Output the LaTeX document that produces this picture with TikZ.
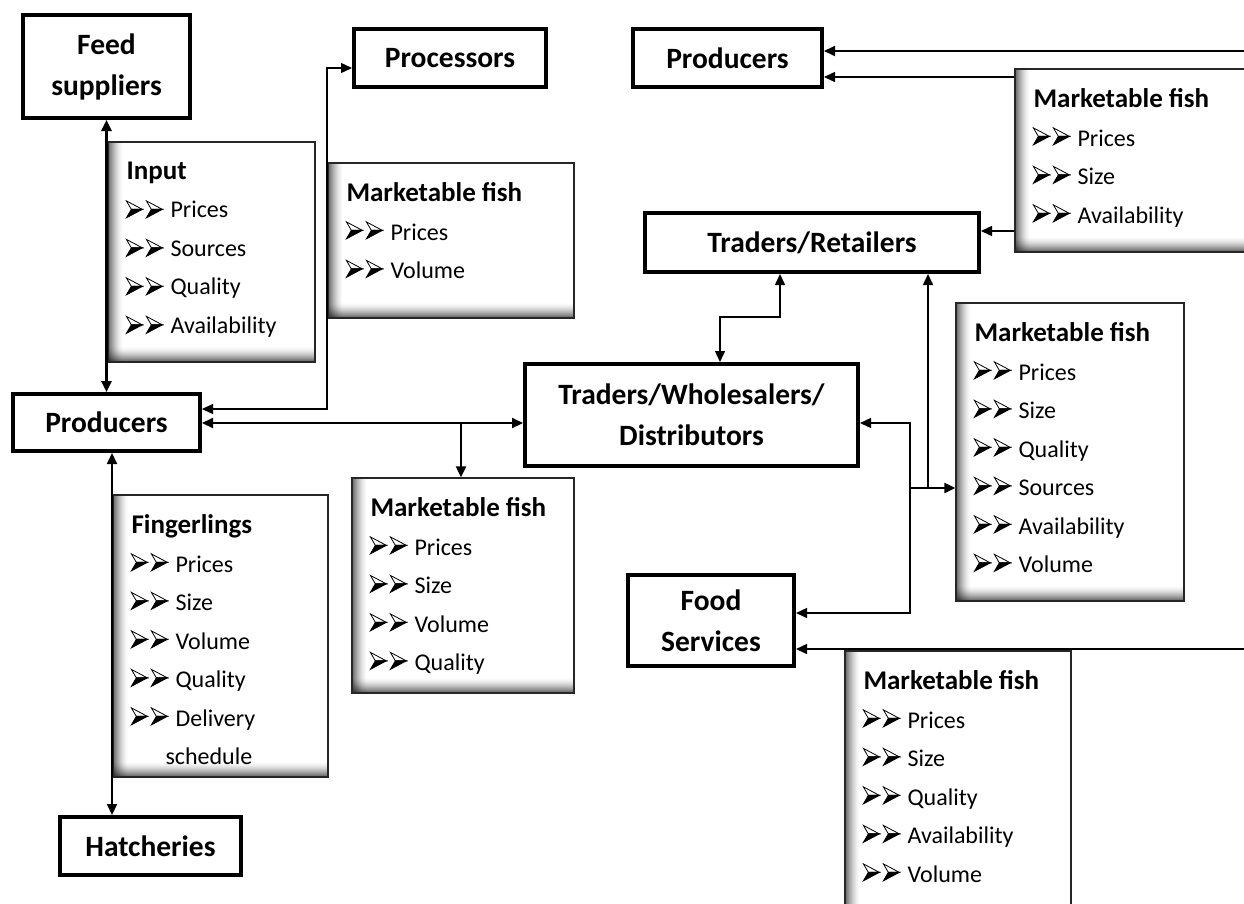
\documentclass[tikz,border=0pt]{standalone}
\usepackage{fontspec}
\setmainfont{Carlito}
\usetikzlibrary{arrows.meta}
\newcommand\bb{\hspace*{44pt}}
\newcommand\ttl[1]{{\bfseries\fontsize{27}{38}\selectfont #1}}
\begin{document}
\begin{tikzpicture}[x=1pt,y=-1pt,
  mainbox/.style={draw, line width=4pt, inner sep=0pt, align=center,
    font=\bfseries\fontsize{29.5}{41}\selectfont},
  infobox/.style={draw=black!85, line width=1.3pt, inner sep=0pt,
    path picture={
      \foreach \i in {0,...,14}{
        \pgfmathsetmacro\op{0.6*(1-\i/15)^1.6}
        \pgfmathsetmacro\j{\i+1}
        \fill[black, opacity=\op] ([xshift=\i pt]path picture bounding box.south west)
          rectangle ([xshift=\j pt]path picture bounding box.north west);
        \fill[black, opacity=\op] ([yshift=\i pt]path picture bounding box.south west)
          rectangle ([yshift=\j pt]path picture bounding box.south east);
      }
    }},
  infotext/.style={anchor=north west, inner sep=0pt, align=left,
    font=\fontsize{24}{38.5}\selectfont},
  conn/.style={line width=1.5pt},
  dblarr/.style={conn, {Triangle[length=11pt,width=10pt]}-{Triangle[length=11pt,width=10pt]}},
  sglarr/.style={conn, -{Triangle[length=11pt,width=10pt]}},
  arrhead/.pic={
    \filldraw[fill=white, draw=black, line width=0.8pt, line join=miter] (0,-8.5) -- (16,0) -- (5,0) -- cycle;
    \filldraw[fill=black, draw=black, line width=0.8pt, line join=miter] (5,0) -- (16,0) -- (0,8.5) -- cycle;
  },
]
\newcommand\bulls[2]{%
  \foreach \k in {1,...,#2}{
    \pgfmathsetmacro\dy{68+38.5*(\k-1)}
    \pic at ([xshift=19pt,yshift=-\dy pt]#1.north west) {arrhead};
    \pic at ([xshift=39pt,yshift=-\dy pt]#1.north west) {arrhead};
  }}
\useasboundingbox (0,0) rectangle (1244,903);
\clip (0,0) rectangle (1244,903);
\fill[white] (0,0) rectangle (1244,903);

% main boxes
\node[mainbox, minimum width=167pt, minimum height=103pt] (feed) at (106.5,66.5) {Feed\\suppliers};
\node[mainbox, minimum width=192pt, minimum height=58pt] (proc) at (450,58) {Processors};
\node[mainbox, minimum width=189pt, minimum height=58pt] (prodT) at (727.5,58) {Producers};
\node[mainbox, minimum width=334pt, minimum height=59pt] (tr) at (812,242.5) {Traders/Retailers};
\node[mainbox, minimum width=187pt, minimum height=57pt] (prodL) at (106.5,422.5) {Producers};
\node[mainbox, minimum width=333pt, minimum height=102pt] (tw) at (691.5,415) {Traders/Wholesalers/\\Distributors};
\node[mainbox, minimum width=166pt, minimum height=91pt] (food) at (711,620.5) {Food\\Services};
\node[mainbox, minimum width=181pt, minimum height=58pt] (hatch) at (150.5,846) {Hatcheries};

% info boxes
\node[infobox, minimum width=207pt, minimum height=220pt] (inp) at (211.5,252) {};
\node[infobox, minimum width=246pt, minimum height=155pt] (mfp) at (451,240.5) {};
\node[infobox, minimum width=245pt, minimum height=183pt] (mftr) at (1137.5,160.5) {};
\node[infobox, minimum width=215pt, minimum height=282pt] (fing) at (220.5,636) {};
\node[infobox, minimum width=222pt, minimum height=215pt] (mfc) at (463,585.5) {};
\node[infobox, minimum width=228pt, minimum height=298pt] (mfr) at (1070,452) {};
\node[infobox, minimum width=226pt, minimum height=269pt] (mfb) at (958,785.5) {};

% info texts
\node[infotext] (inp-t) at ([xshift=19pt,yshift=-20pt]inp.north west)
  {\ttl{Input}\\\bb Prices\\\bb Sources\\\bb Quality\\\bb Availability};
\node[infotext] (mfp-t) at ([xshift=19pt,yshift=-20pt]mfp.north west)
  {\ttl{Marketable fish}\\\bb Prices\\\bb Volume};
\node[infotext] (mftr-t) at ([xshift=19pt,yshift=-20pt]mftr.north west)
  {\ttl{Marketable fish}\\\bb Prices\\\bb Size\\\bb Availability};
\node[infotext] (fing-t) at ([xshift=19pt,yshift=-20pt]fing.north west)
  {\ttl{Fingerlings}\\\bb Prices\\\bb Size\\\bb Volume\\\bb Quality\\\bb Delivery\\\hspace*{34pt}schedule};
\node[infotext] (mfc-t) at ([xshift=19pt,yshift=-20pt]mfc.north west)
  {\ttl{Marketable fish}\\\bb Prices\\\bb Size\\\bb Volume\\\bb Quality};
\node[infotext] (mfr-t) at ([xshift=19pt,yshift=-20pt]mfr.north west)
  {\ttl{Marketable fish}\\\bb Prices\\\bb Size\\\bb Quality\\\bb Sources\\\bb Availability\\\bb Volume};
\node[infotext] (mfb-t) at ([xshift=19pt,yshift=-20pt]mfb.north west)
  {\ttl{Marketable fish}\\\bb Prices\\\bb Size\\\bb Quality\\\bb Availability\\\bb Volume};

% bullets
\bulls{inp}{4}
\bulls{mfp}{2}
\bulls{mftr}{3}
\bulls{fing}{5}
\bulls{mfc}{4}
\bulls{mfr}{6}
\bulls{mfb}{5}

% connectors
\draw[dblarr, line width=2.5pt] (feed.south) -- (prodL.north);
\draw[dblarr, line width=2pt] (112,0 |- prodL.south) -- (112,0 |- hatch.north);
\draw[dblarr, line width=1.3pt] (prodL.east |- 0,409) -- (327,409) -- (327,68) -- (proc.west |- 0,68);
\draw[dblarr, line width=2pt] (prodL.east |- 0,423) -- (tw.west |- 0,423);
\draw[sglarr, line width=2pt] (461,423) -- (461,0 |- mfc.north);
\draw[dblarr] (720,0 |- tw.north) -- (720,317) -- (780,317) -- (780,0 |- tr.south);
\draw[dblarr] (tw.east |- 0,423) -- (910,423) -- (910,613) -- (food.east |- 0,613);
\draw[sglarr, line width=2pt] (910,488) -- (mfr.west |- 0,488);
\draw[sglarr] (928,488) -- (928,0 |- tr.south);
\draw[sglarr] (mftr.west |- 0,231) -- (tr.east |- 0,231);
\draw[sglarr] (mftr.west |- 0,77) -- (prodT.east |- 0,77);
\coordinate (eA) at (1244,51);
\coordinate (eB) at (1244,649);
\draw[sglarr, line width=2pt] (eA) -- (eA -| prodT.east);
\draw[sglarr] (eB) -- (eB -| food.east);
\end{tikzpicture}
\end{document}
